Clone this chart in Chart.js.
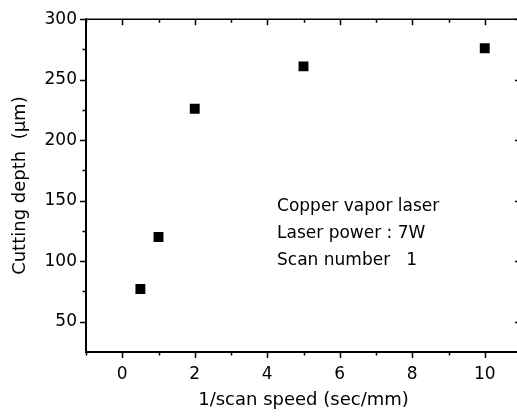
<!DOCTYPE html>
<html>
<head>
<meta charset="utf-8">
<script src="https://cdn.jsdelivr.net/npm/chart.js@4/dist/chart.umd.min.js"></script>
<style>
  html, body { margin: 0; padding: 0; background: #fff; overflow: hidden; width: 517px; height: 416px; }
  #wrap { width: 530px; height: 416px; }
</style>
</head>
<body>
<div id="wrap"><canvas id="c" width="530" height="416"></canvas></div>
<script>
// ---- data ----
const scanSpeedInv = [0.5, 1, 2, 5, 10];          // 1/scan speed (sec/mm)
const cuttingDepth = [77, 120, 226, 261, 276];    // cutting depth (um)
const xTickValues = [0, 2, 4, 6, 8, 10];
const yTickValues = [50, 100, 150, 200, 250, 300];
const xTitle = '1/scan speed (sec/mm)';
const yTitle = 'Cutting depth  (\u03bcm)';
const noteLines = ['Copper vapor laser', 'Laser power : 7W', 'Scan number   1'];

const FONT = 'DejaVu Sans';

const points = scanSpeedInv.map((x, i) => ({ x: x, y: cuttingDepth[i] }));

const framePlugin = {
  id: 'frameTicks',
  afterDraw(chart) {
    const ctx = chart.ctx;
    const a = chart.chartArea;
    const xs = chart.scales.x, ys = chart.scales.y;
    ctx.save();
    ctx.strokeStyle = '#000';
    // frame
    ctx.lineWidth = 1.5;
    ctx.beginPath();
    ctx.moveTo(a.left, a.top); ctx.lineTo(a.right, a.top);
    ctx.moveTo(a.right, a.top); ctx.lineTo(a.right, a.bottom);
    ctx.stroke();
    ctx.lineWidth = 2;
    ctx.beginPath();
    ctx.moveTo(a.left, a.top - 1); ctx.lineTo(a.left, a.bottom);
    ctx.lineTo(a.right, a.bottom);
    ctx.stroke();

    const xMaj = xs.ticks.map(t => t.value);
    const yMaj = ys.ticks.map(t => t.value);
    const xStep = xMaj[1] - xMaj[0], yStep = yMaj[1] - yMaj[0];
    const xMin = [], yMin = [];
    for (let v = xMaj[0] - xStep / 2; v <= xs.max + 1e-9; v += xStep) if (v >= xs.min - 1e-9) xMin.push(v);
    for (let v = yMaj[0] - yStep / 2; v <= ys.max + 1e-9; v += yStep) if (v >= ys.min + 1e-9) yMin.push(v);

    ctx.lineWidth = 1.5;
    ctx.beginPath();
    // bottom (outward) and top (inward)
    xMaj.forEach(v => {
      const p = Math.round(xs.getPixelForValue(v)) + 0.5;
      ctx.moveTo(p, a.bottom); ctx.lineTo(p, a.bottom + 6);
      ctx.moveTo(p, a.top); ctx.lineTo(p, a.top + 6);
    });
    xMin.forEach(v => {
      const p = Math.round(xs.getPixelForValue(v)) + 0.5;
      ctx.moveTo(p, a.bottom); ctx.lineTo(p, a.bottom + 3.5);
      ctx.moveTo(p, a.top); ctx.lineTo(p, a.top + 3.5);
    });
    // left (outward) and right (inward)
    yMaj.forEach(v => {
      const p = Math.round(ys.getPixelForValue(v)) + 0.5;
      ctx.moveTo(a.left - 6, p); ctx.lineTo(a.left, p);
      ctx.moveTo(a.right - 6, p); ctx.lineTo(a.right, p);
    });
    yMin.forEach(v => {
      const p = Math.round(ys.getPixelForValue(v)) + 0.5;
      ctx.moveTo(a.left - 3.5, p); ctx.lineTo(a.left, p);
      ctx.moveTo(a.right - 3.5, p); ctx.lineTo(a.right, p);
    });
    ctx.stroke();

    // annotation text
    ctx.fillStyle = '#000';
    ctx.font = '17px "' + FONT + '"';
    ctx.textAlign = 'left';
    ctx.textBaseline = 'middle';
    const tx = xs.getPixelForValue(4.27);
    const ty0 = ys.getPixelForValue(145.5);
    const dy = ys.getPixelForValue(123) - ys.getPixelForValue(145.5);
    noteLines.forEach((s, i) => ctx.fillText(s, tx, ty0 + i * dy));
    ctx.restore();
  }
};

new Chart(document.getElementById('c'), {
  type: 'scatter',
  data: {
    datasets: [{
      data: points,
      pointStyle: 'rect',
      radius: 7,
      hoverRadius: 7,
      backgroundColor: '#000',
      borderColor: '#000',
      borderWidth: 0,
      showLine: false
    }]
  },
  options: {
    responsive: false,
    animation: false,
    devicePixelRatio: 1,
    layout: { padding: { left: 0, right: 9, top: 17, bottom: 0 } },
    plugins: { legend: { display: false }, tooltip: { enabled: false } },
    scales: {
      x: {
        type: 'linear',
        min: -1, max: 11,
        afterBuildTicks: s => { s.ticks = xTickValues.map(v => ({ value: v })); },
        afterFit: s => { s.height = 64; },
        grid: { display: false, drawTicks: false },
        border: { display: false },
        ticks: { color: '#000', padding: 12, font: { family: FONT, size: 17 }, maxRotation: 0 },
        title: { display: true, text: xTitle, color: '#000', font: { family: FONT, size: 18 }, padding: { top: 0, bottom: 5 } }
      },
      y: {
        type: 'linear',
        min: 25, max: 300,
        afterBuildTicks: s => { s.ticks = yTickValues.map(v => ({ value: v })); },
        afterFit: s => { s.width = 86; },
        grid: { display: false, drawTicks: false },
        border: { display: false },
        ticks: { color: '#000', padding: 9, font: { family: FONT, size: 17 } },
        title: { display: true, text: yTitle, color: '#000', font: { family: FONT, size: 18 }, padding: { top: 10, bottom: 0 } }
      }
    }
  },
  plugins: [framePlugin]
});
</script>
</body>
</html>
